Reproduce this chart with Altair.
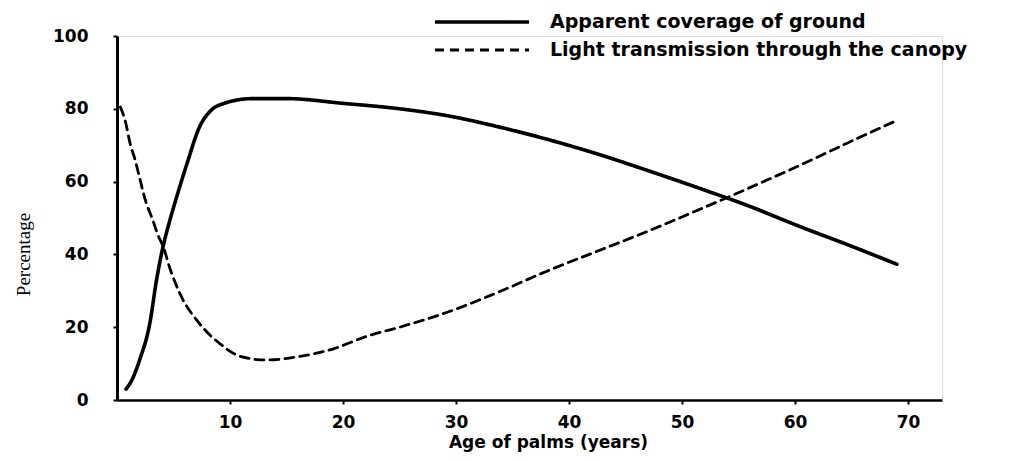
import altair as alt
import pandas as pd

# Apparent coverage of ground (%)
cov_age = [0.8, 1.4, 2.0, 2.9, 3.5, 4.1, 4.6, 5.3, 6.2, 7.3, 8.3, 9.5, 12, 15, 20, 25,
           29.4, 33.8, 38.2, 42.6, 47, 51.5, 55.9, 60.3, 64.7, 69]
cov_val = [3, 6, 11, 21, 33, 42.5, 48.5, 56, 65, 75, 79.5, 81.5, 82.8, 82.8, 81.5, 80,
           78, 75, 71.5, 67.5, 63, 58.2, 53.3, 47.8, 42.6, 37.3]

# Light transmission through the canopy (%)
light_age = [0.3, 0.7, 1.2, 1.6, 2.0, 2.6, 3.1, 3.6, 4.1, 4.7, 5.6, 7.3, 9.1, 10.9, 13.2,
             16.2, 19.1, 22.1, 25, 29.4, 33.8, 38.2, 42.6, 47, 51.5, 55.9, 60.3, 64.7, 69]
light_val = [80.5, 77, 70, 66, 61, 54, 50, 45.5, 42, 36, 29, 21, 15.5, 12, 11,
             12, 14, 17.5, 20, 24.3, 29.7, 35.6, 41, 46.4, 52.3, 58.2, 64.3, 70.7, 76.8]

series = ["Apparent coverage of ground", "Light transmission through the canopy"]
x_ticks = [10, 20, 30, 40, 50, 60, 70]
y_ticks = [0, 20, 40, 60, 80, 100]

df = pd.concat([
    pd.DataFrame({"age": cov_age, "pct": cov_val, "series": series[0]}),
    pd.DataFrame({"age": light_age, "pct": light_val, "series": series[1]}),
])

label_font = "DejaVu Sans"

chart = alt.Chart(df).mark_line(interpolate="monotone", color="black",
                                strokeCap="round").encode(
    x=alt.X("age:Q",
            scale=alt.Scale(domain=[0, 73], nice=False, zero=False),
            axis=alt.Axis(values=x_ticks, title="Age of palms (years)",
                          grid=False, domainColor="black", domainWidth=2.5,
                          tickColor="black", tickSize=4, tickWidth=2,
                          labelFont=label_font, labelFontSize=17,
                          labelFontWeight="bold", labelColor="black",
                          labelPadding=10,
                          titleFont=label_font, titleFontSize=17,
                          titleFontWeight="bold", titleColor="black",
                          titleX=431, titleY=42, titleAlign="center",
                          titleBaseline="middle")),
    y=alt.Y("pct:Q",
            scale=alt.Scale(domain=[0, 100], nice=False),
            axis=alt.Axis(values=y_ticks, title="Percentage", grid=False,
                          domainColor="black", domainWidth=3,
                          tickColor="black", tickSize=4, tickWidth=2,
                          labelFont=label_font, labelFontSize=17,
                          labelFontWeight="bold", labelColor="black",
                          labelPadding=25,
                          titleFont="Liberation Serif", titleFontSize=19,
                          titleFontWeight="normal", titleColor="black",
                          titleX=-94, titleY=218, titleAngle=-90,
                          titleAlign="center", titleBaseline="middle")),
    strokeDash=alt.StrokeDash("series:N",
        scale=alt.Scale(domain=series, range=[[1, 0], [9, 6]]),
        legend=alt.Legend(title=None, orient="none", legendX=316, legendY=-27,
                          symbolType="stroke", symbolSize=8836,
                          symbolStrokeWidth=2.2, symbolStrokeColor="black",
                          clipHeight=26, rowPadding=2, padding=0,
                          labelFont=label_font, labelFontSize=19,
                          labelFontWeight="bold", labelColor="black",
                          labelOffset=19, labelLimit=600)),
    strokeWidth=alt.StrokeWidth("series:N",
        scale=alt.Scale(domain=series, range=[3.6, 2.8]), legend=None),
).properties(
    width=825, height=364,
    autosize=alt.AutoSizeParams(type="none"),
    padding={"left": 109, "top": 28, "right": 60, "bottom": 52},
).configure_view(stroke=None).configure(background="white")

chart.save("out.html", embed_options={"renderer": "svg", "actions": False})
